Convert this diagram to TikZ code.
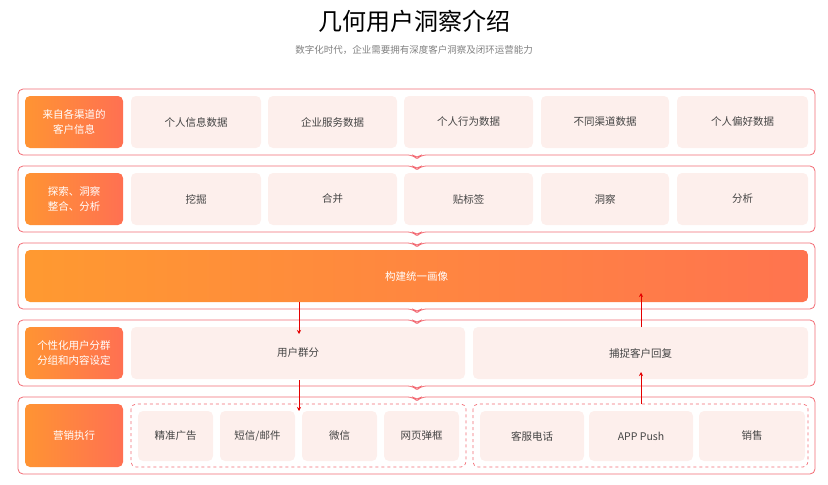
\documentclass[tikz,border=0pt]{standalone}
\usepackage{fontspec}
\setmainfont{Noto Sans CJK SC}
\usetikzlibrary{positioning, arrows.meta}
\definecolor{frameRed}{HTML}{F26B74}
\definecolor{cellFill}{HTML}{FDEFEC}
\definecolor{orangeA}{HTML}{FF9433}
\definecolor{orangeB}{HTML}{FF7052}
\definecolor{textGray}{HTML}{444444}
\tikzset{
  rowframe/.style={draw=frameRed, line width=0.8pt, rounded corners=5pt},
  cell/.style={rectangle, rounded corners=5pt, fill=cellFill, text=textGray, font=\fontsize{10.5}{12}\selectfont, inner sep=0pt},
  tag/.style={rectangle, rounded corners=5pt, left color=orangeA, right color=orangeB, text=white, align=center, font=\fontsize{10.5}{15}\selectfont, inner sep=0pt, minimum width=98pt},
  group/.style={draw=frameRed, dashed, line width=0.7pt, rounded corners=5pt},
  flow/.style={draw=red!90!black, line width=0.9pt, -{Stealth[length=4pt,width=4pt]}}
}
\begin{document}
\begin{tikzpicture}[x=1pt, y=-1pt]
\useasboundingbox (0,0) rectangle (828,485);

% Title
\node (title) at (414,21) {\fontsize{24}{28}\selectfont 几何用户洞察介绍};
\node (subtitle) [text=gray, font=\fontsize{9.5}{11}\selectfont] at (414,50) {数字化时代，企业需要拥有深度客户洞察及闭环运营能力};

% Row frames with notches
\draw [rowframe] (18,89) -- (815,89) -- (815,155) -- (421,155) -- (417,159) -- (413,155) -- (18,155) -- cycle;
\draw [rowframe] (18,166) -- (413,166) -- (417,170) -- (421,166) -- (815,166) -- (815,232) -- (421,232) -- (417,236) -- (413,232) -- (18,232) -- cycle;
\draw [rowframe] (18,243) -- (413,243) -- (417,247) -- (421,243) -- (815,243) -- (815,309) -- (421,309) -- (417,313) -- (413,309) -- (18,309) -- cycle;
\draw [rowframe] (18,320) -- (413,320) -- (417,324) -- (421,320) -- (815,320) -- (815,386) -- (421,386) -- (417,390) -- (413,386) -- (18,386) -- cycle;
\draw [rowframe] (18,397) -- (413,397) -- (417,401) -- (421,397) -- (815,397) -- (815,474) -- (18,474) -- cycle;

% Row 1
\node (src) [tag, minimum height=52pt] at (74,122) {来自各渠道的\\客户信息};
\foreach \x/\w/\t [count=\i] in {196/130/个人信息数据, 332.5/129/企业服务数据, 468.5/129/个人行为数据, 605/128/不同渠道数据, 742.5/131/个人偏好数据}
  \node (src-\i) [cell, minimum width=\w pt, minimum height=52pt] at (\x,122) {\t};

% Row 2
\node (ana) [tag, minimum height=52pt] at (74,199) {探索、洞察\\整合、分析};
\foreach \x/\w/\t [count=\i] in {196/130/挖掘, 332.5/129/合并, 468.5/129/贴标签, 605/128/洞察, 742.5/131/分析}
  \node (ana-\i) [cell, minimum width=\w pt, minimum height=52pt] at (\x,199) {\t};

% Row 3
\node (portrait) [tag, minimum width=783pt, minimum height=52pt, left color=orangeA!95!yellow, right color=orangeB!90!orangeA] at (416.5,276) {构建统一画像};

% Row 4
\node (seg) [tag, minimum height=52pt] at (74,353) {个性化用户分群\\分组和内容设定};
\node (group) [cell, minimum width=334pt, minimum height=52pt] at (298,353) {用户群分};
\node (reply) [cell, minimum width=335pt, minimum height=52pt] at (640.5,353) {捕捉客户回复};

% Row 5
\node (exec) [tag, minimum height=63pt] at (74,435.5) {营销执行};
\draw [group] (131,404) rectangle (466,467);
\draw [group] (473,404) rectangle (808,467);
\foreach \x/\w/\t [count=\i] in {175.5/75/精准广告, 257.5/75/{短信/邮件}, 339.5/75/微信, 421.5/75/网页弹框, 532/104/客服电话, 641/104/APP Push, 752/106/销售}
  \node (ch-\i) [cell, minimum width=\w pt, minimum height=50pt] at (\x,436) {\t};

% Arrows
\coordinate (down1) at (299,302);
\coordinate (down2) at (299,380);
\coordinate (up1) at (641,327);
\coordinate (up2) at (641,404);
\draw [flow] (down1) -- (299,334);
\draw [flow] (down2) -- (299,411);
\draw [flow] (up1) -- (641,293);
\draw [flow] (up2) -- (641,372);

\end{tikzpicture}
\end{document}
